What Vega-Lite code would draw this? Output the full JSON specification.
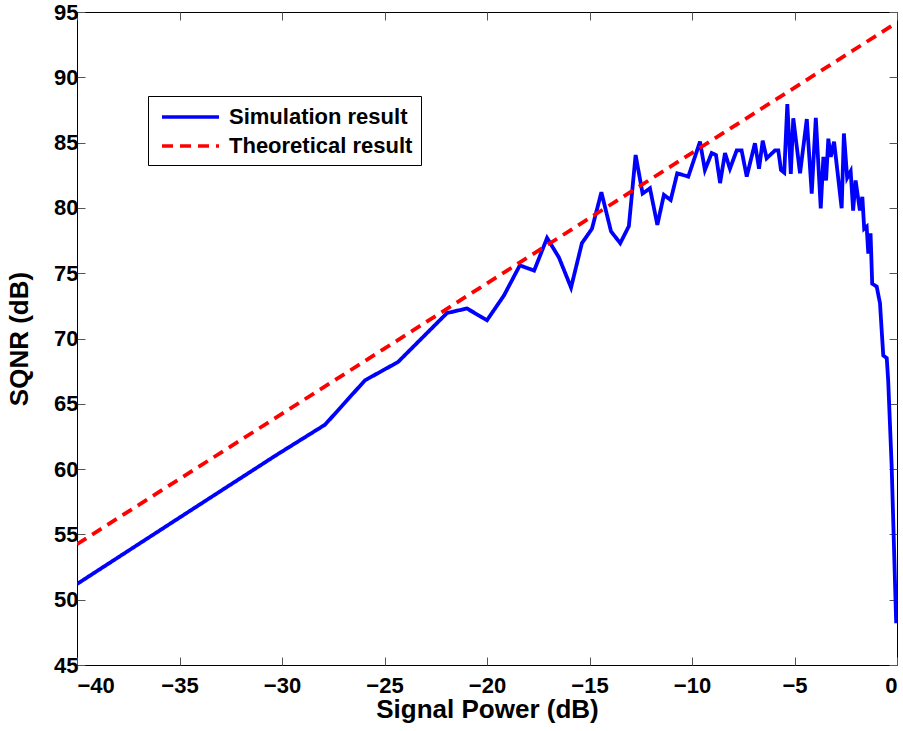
{
  "$schema": "https://vega.github.io/schema/vega-lite/v6.json",
  "width": 820,
  "height": 653,
  "autosize": "none",
  "padding": {"left": 77, "top": 12, "right": 6, "bottom": 66},
  "background": "white",
  "config": {
    "view": {"stroke": "black", "strokeWidth": 1},
    "font": "Liberation Sans",
    "axis": {"grid": false, "domain": false, "labelFont": "Liberation Sans", "labelFontWeight": "bold", "labelFontSize": 22, "labelColor": "black", "titleFont": "Liberation Sans", "titleFontWeight": "bold", "titleFontSize": 26, "titleColor": "black", "tickColor": "#555555", "tickSize": -8, "tickWidth": 1}
  },
  "data": {"values": [
    {"x": -40, "y": 51.2, "s": "Simulation result"},
    {"x": -34, "y": 57.3, "s": "Simulation result"},
    {"x": -30.3, "y": 61.05, "s": "Simulation result"},
    {"x": -27.9, "y": 63.4, "s": "Simulation result"},
    {"x": -25.95, "y": 66.8, "s": "Simulation result"},
    {"x": -24.34, "y": 68.2, "s": "Simulation result"},
    {"x": -21.95, "y": 71.95, "s": "Simulation result"},
    {"x": -20.98, "y": 72.3, "s": "Simulation result"},
    {"x": -20.0, "y": 71.4, "s": "Simulation result"},
    {"x": -19.17, "y": 73.3, "s": "Simulation result"},
    {"x": -18.4, "y": 75.6, "s": "Simulation result"},
    {"x": -17.7, "y": 75.2, "s": "Simulation result"},
    {"x": -17.07, "y": 77.7, "s": "Simulation result"},
    {"x": -16.49, "y": 76.2, "s": "Simulation result"},
    {"x": -15.9, "y": 73.9, "s": "Simulation result"},
    {"x": -15.37, "y": 77.3, "s": "Simulation result"},
    {"x": -14.88, "y": 78.4, "s": "Simulation result"},
    {"x": -14.42, "y": 81.2, "s": "Simulation result"},
    {"x": -13.95, "y": 78.2, "s": "Simulation result"},
    {"x": -13.5, "y": 77.3, "s": "Simulation result"},
    {"x": -13.08, "y": 78.6, "s": "Simulation result"},
    {"x": -12.75, "y": 84.05, "s": "Simulation result"},
    {"x": -12.41, "y": 81.1, "s": "Simulation result"},
    {"x": -12.05, "y": 81.5, "s": "Simulation result"},
    {"x": -11.69, "y": 78.7, "s": "Simulation result"},
    {"x": -11.37, "y": 81.0, "s": "Simulation result"},
    {"x": -11.04, "y": 80.6, "s": "Simulation result"},
    {"x": -10.72, "y": 82.65, "s": "Simulation result"},
    {"x": -10.18, "y": 82.4, "s": "Simulation result"},
    {"x": -9.61, "y": 85.07, "s": "Simulation result"},
    {"x": -9.37, "y": 82.9, "s": "Simulation result"},
    {"x": -9.04, "y": 84.2, "s": "Simulation result"},
    {"x": -8.83, "y": 84.05, "s": "Simulation result"},
    {"x": -8.63, "y": 81.9, "s": "Simulation result"},
    {"x": -8.39, "y": 84.2, "s": "Simulation result"},
    {"x": -8.15, "y": 83.0, "s": "Simulation result"},
    {"x": -7.82, "y": 84.4, "s": "Simulation result"},
    {"x": -7.58, "y": 84.4, "s": "Simulation result"},
    {"x": -7.33, "y": 82.4, "s": "Simulation result"},
    {"x": -6.93, "y": 84.95, "s": "Simulation result"},
    {"x": -6.73, "y": 83.0, "s": "Simulation result"},
    {"x": -6.55, "y": 85.15, "s": "Simulation result"},
    {"x": -6.36, "y": 83.8, "s": "Simulation result"},
    {"x": -5.95, "y": 84.4, "s": "Simulation result"},
    {"x": -5.79, "y": 84.4, "s": "Simulation result"},
    {"x": -5.66, "y": 82.9, "s": "Simulation result"},
    {"x": -5.5, "y": 82.7, "s": "Simulation result"},
    {"x": -5.35, "y": 87.95, "s": "Simulation result"},
    {"x": -5.18, "y": 82.6, "s": "Simulation result"},
    {"x": -5.06, "y": 86.86, "s": "Simulation result"},
    {"x": -4.73, "y": 82.65, "s": "Simulation result"},
    {"x": -4.4, "y": 86.8, "s": "Simulation result"},
    {"x": -4.16, "y": 81.1, "s": "Simulation result"},
    {"x": -3.96, "y": 86.9, "s": "Simulation result"},
    {"x": -3.72, "y": 79.97, "s": "Simulation result"},
    {"x": -3.59, "y": 83.9, "s": "Simulation result"},
    {"x": -3.46, "y": 82.1, "s": "Simulation result"},
    {"x": -3.35, "y": 85.3, "s": "Simulation result"},
    {"x": -3.23, "y": 83.9, "s": "Simulation result"},
    {"x": -3.07, "y": 85.07, "s": "Simulation result"},
    {"x": -2.7, "y": 79.97, "s": "Simulation result"},
    {"x": -2.59, "y": 85.7, "s": "Simulation result"},
    {"x": -2.43, "y": 82.3, "s": "Simulation result"},
    {"x": -2.26, "y": 82.8, "s": "Simulation result"},
    {"x": -2.14, "y": 79.8, "s": "Simulation result"},
    {"x": -2.02, "y": 82.1, "s": "Simulation result"},
    {"x": -1.81, "y": 79.8, "s": "Simulation result"},
    {"x": -1.69, "y": 80.85, "s": "Simulation result"},
    {"x": -1.6, "y": 78.4, "s": "Simulation result"},
    {"x": -1.48, "y": 78.56, "s": "Simulation result"},
    {"x": -1.4, "y": 76.5, "s": "Simulation result"},
    {"x": -1.29, "y": 78.05, "s": "Simulation result"},
    {"x": -1.21, "y": 74.2, "s": "Simulation result"},
    {"x": -0.99, "y": 73.97, "s": "Simulation result"},
    {"x": -0.83, "y": 72.7, "s": "Simulation result"},
    {"x": -0.67, "y": 68.7, "s": "Simulation result"},
    {"x": -0.5, "y": 68.5, "s": "Simulation result"},
    {"x": -0.43, "y": 66.8, "s": "Simulation result"},
    {"x": -0.26, "y": 60.2, "s": "Simulation result"},
    {"x": -0.04, "y": 48.2, "s": "Simulation result"},
    {"x": -40, "y": 54.25, "s": "Theoretical result"},
    {"x": 0, "y": 94.2, "s": "Theoretical result"}
  ]},
  "resolve": {"axis": {"x": "independent", "y": "independent"}},
  "layer": [
    {
      "mark": {"type": "line", "strokeWidth": 3.8, "clip": true},
      "encoding": {
        "x": {"field": "x", "type": "quantitative", "scale": {"domain": [-40, 0], "nice": false, "zero": false},
              "axis": {"values": [-40, -35, -30, -25, -20, -15, -10, -5, 0], "title": "Signal Power (dB)", "labelPadding": 18, "titlePadding": 0}},
        "y": {"field": "y", "type": "quantitative", "scale": {"domain": [45, 95], "nice": false, "zero": false},
              "axis": {"values": [45, 50, 55, 60, 65, 70, 75, 80, 85, 90, 95], "title": "SQNR (dB)", "labelPadding": 7, "titlePadding": 21}},
        "color": {"field": "s", "type": "nominal",
                  "scale": {"domain": ["Simulation result", "Theoretical result"], "range": ["#0000ff", "#ff0000"]},
                  "legend": {"title": null, "orient": "none", "legendX": 71, "legendY": 84,
                             "strokeColor": "black", "fillColor": "white", "padding": 8,
                             "labelFont": "Liberation Sans", "labelFontWeight": "bold", "labelFontSize": 22, "labelColor": "black", "labelLimit": 0,
                             "symbolType": "M-0.636,0H4.545", "symbolSize": 484, "symbolStrokeWidth": 3.5, "rowPadding": 5, "labelOffset": 47}},
        "strokeDash": {"field": "s", "type": "nominal",
                       "scale": {"domain": ["Simulation result", "Theoretical result"], "range": [[1, 0], [11, 7]]},
                       "legend": null},
        "order": {"field": "x", "type": "quantitative"}
      }
    },
    {
      "mark": {"type": "line", "opacity": 0},
      "encoding": {
        "x": {"field": "x", "type": "quantitative", "scale": {"domain": [-40, 0], "nice": false, "zero": false},
              "axis": {"orient": "top", "values": [-40, -35, -30, -25, -20, -15, -10, -5, 0], "labels": false, "title": null}},
        "y": {"field": "y", "type": "quantitative", "scale": {"domain": [45, 95], "nice": false, "zero": false},
              "axis": {"orient": "right", "values": [45, 50, 55, 60, 65, 70, 75, 80, 85, 90, 95], "labels": false, "title": null}},
        "detail": {"field": "s", "type": "nominal"}
      }
    }
  ]
}
